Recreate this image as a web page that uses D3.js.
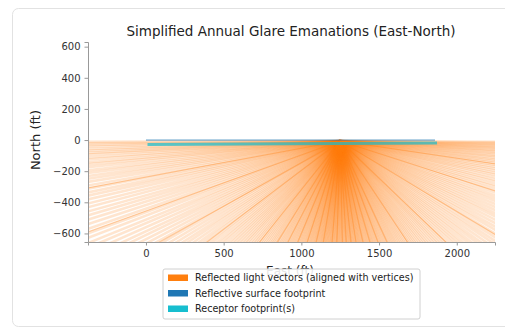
<!DOCTYPE html>
<html>
<head>
<meta charset="utf-8">
<script src="https://cdn.jsdelivr.net/npm/d3@7"></script>
<style>
  body { margin: 0; background: #fff; font-family: "DejaVu Sans", sans-serif; }
  .tick text { font-family: "DejaVu Sans", sans-serif; }
</style>
</head>
<body>
<svg id="chart"></svg>
<script>
const WIDTH = 505
const HEIGHT = 332

// ray directions in degrees from due south (negative = toward west)
const rayAngles = [
  -89.8, -89.5, -89.1, -88.7, -88.2, -87.8, -87.3, -86.9, -86.3, -85.8, -85.2, -84.7,
  -84.1, -83.4, -82.8, -82.1, -81.5, -80.8, -80.0, -79.3, -78.5, -77.8, -77.0, -76.1,
  -75.3, -74.4, -73.6, -72.7, -71.8, -70.8, -69.9, -69.0, -68.0, -67.1, -66.1, -65.1,
  -64.2, -63.2, -62.2, -61.2, -60.3, -59.3, -58.3, -57.3, -56.4, -55.4, -54.4, -53.5,
  -52.5, -51.6, -50.6, -49.7, -48.8, -47.8, -46.9, -46.0, -45.1, -44.2, -43.3, -42.5,
  -41.6, -40.7, -39.9, -39.1, -38.2, -37.4, -36.6, -35.8, -35.0, -34.2, -33.5, -32.7,
  -32.0, -31.2, -30.5, -29.8, -29.1, -28.4, -27.7, -27.0, -26.3, -25.7, -25.0, -24.4,
  -23.7, -23.1, -22.5, -21.9, -21.3, -20.7, -20.1, -19.5, -18.9, -18.4, -17.8, -17.3,
  -16.7, -16.2, -15.7, -15.1, -14.6, -14.1, -13.6, -13.1, -12.6, -12.1, -11.6, -11.1,
  -10.6, -10.2, -9.7, -9.2, -8.8, -8.3, -7.9, -7.4, -7.0, -6.5, -6.1, -5.6, -5.2, -4.8,
  -4.3, -3.9, -3.5, -3.0, -2.6, -2.2, -1.7, -1.3, -0.9, -0.4, 0,
  0.5, 0.9, 1.4, 1.8, 2.3, 2.7, 3.2, 3.6, 4.1, 4.5, 5.0, 5.4, 5.9, 6.3, 6.8, 7.2, 7.7,
  8.2, 8.6, 9.1, 9.6, 10.1, 10.5, 11.0, 11.5, 12.0, 12.5, 13.0, 13.5, 14.0, 14.6, 15.1,
  15.6, 16.2, 16.7, 17.3, 17.8, 18.4, 19.0, 19.6, 20.2, 20.8, 21.4, 22.0, 22.6, 23.3,
  23.9, 24.6, 25.2, 25.9, 26.6, 27.3, 28.0, 28.7, 29.4, 30.2, 30.9, 31.7, 32.4, 33.2,
  34.0, 34.8, 35.6, 36.4, 37.2, 38.1, 38.9, 39.8, 40.6, 41.5, 42.4, 43.3, 44.1, 45.0,
  45.9, 46.8, 47.8, 48.7, 49.6, 50.5, 51.5, 52.4, 53.4, 54.3, 55.3, 56.3, 57.2, 58.2,
  59.2, 60.2, 61.1, 62.1, 63.1, 64.1, 65.0, 66.0, 67.0, 67.9, 68.9, 69.8, 70.7, 71.7,
  72.6, 73.5, 74.3, 75.2, 76.0, 76.9, 77.7, 78.4, 79.2, 79.9, 80.6, 81.3, 82.0, 82.6,
  83.2, 83.8, 84.4, 84.9, 85.5, 86.0, 86.5, 86.9, 87.4, 87.8, 88.2, 88.6, 89.0, 89.4, 89.7
]
// a few rays that show up as darker streaks
const streakAngles = [
  -79.5, -70.2, -60.8, -52.9, -38.6, -31.9, -27.4, -22.8, -18.1, -13.4, -9.5, -4.6, -1.9,
  1.2, 3.4, 6.1, 8.9, 12.7, 16.4, 20.5, 24.9, 33.7, 46.3, 58.9, 72.2, 81.6
]
const rayOrigin = [1250, -6]   // east, north (ft)
const rayLength = 4000

const surfaceEast = [0, 1860]
const surfaceNorth = [0, 0]
const receptorEast = [10, 1873]
const receptorNorth = [-29, -19]

const xTicks = [0, 500, 1000, 1500, 2000]
const yTicks = [-600, -400, -200, 0, 200, 400, 600]

const legendLabels = [
  "Reflected light vectors (aligned with vertices)",
  "Reflective surface footprint",
  "Receptor footprint(s)"
]
const legendColors = ["#ff7f0e", "#1f77b4", "#17becf"]

const margin = {left: 88, right: 10, top: 42, bottom: 90}

const svg = d3.select("#chart").attr("width", WIDTH).attr("height", HEIGHT)

// card outline
svg.append("rect")
  .attr("x", 12.5).attr("y", 8.5)
  .attr("width", 530).attr("height", 318)
  .attr("rx", 6)
  .attr("fill", "none")
  .attr("stroke", "#e2e2e2")

const x = d3.scaleLinear().domain([-373, 2246]).range([margin.left, WIDTH - margin.right])
const y = d3.scaleLinear().domain([-655, 630]).range([HEIGHT - margin.bottom, margin.top])

svg.append("clipPath").attr("id", "plotclip")
  .append("rect")
  .attr("x", x.range()[0]).attr("y", y.range()[1])
  .attr("width", x.range()[1] - x.range()[0])
  .attr("height", y.range()[0] - y.range()[1])

const plot = svg.append("g").attr("clip-path", "url(#plotclip)")

function drawRays(angles, opacity, width) {
  plot.append("g")
    .selectAll("line")
    .data(angles)
    .enter()
    .append("line")
      .attr("x1", x(rayOrigin[0]))
      .attr("y1", y(rayOrigin[1]))
      .attr("x2", d => x(rayOrigin[0] + rayLength * Math.sin(d * Math.PI / 180)))
      .attr("y2", d => y(rayOrigin[1] - rayLength * Math.cos(d * Math.PI / 180)))
      .attr("stroke", "#ff7f0e")
      .attr("stroke-opacity", opacity)
      .attr("stroke-width", width)
}
drawRays(rayAngles, 0.2, 2.6)
drawRays(streakAngles, 0.35, 1.2)

// reflective surface
plot.append("line")
  .attr("x1", x(surfaceEast[0])).attr("y1", y(surfaceNorth[0]))
  .attr("x2", x(surfaceEast[1])).attr("y2", y(surfaceNorth[1]))
  .attr("stroke", "#1f77b4")
  .attr("stroke-opacity", 0.45)
  .attr("stroke-width", 1.8)

// receptor
plot.append("line")
  .attr("x1", x(receptorEast[0])).attr("y1", y(receptorNorth[0]))
  .attr("x2", x(receptorEast[1])).attr("y2", y(receptorNorth[1]))
  .attr("stroke", "#17becf")
  .attr("stroke-opacity", 0.7)
  .attr("stroke-width", 3)

// axes
const fmt = d => d < 0 ? "\u2212" + Math.abs(d) : String(d)
const xAxis = svg.append("g")
  .attr("transform", `translate(0,${y.range()[0]})`)
  .call(d3.axisBottom(x).tickValues(xTicks).tickSize(3.5).tickPadding(4).tickFormat(fmt))
const yAxis = svg.append("g")
  .attr("transform", `translate(${x.range()[0]},0)`)
  .call(d3.axisLeft(y).tickValues(yTicks).tickSize(3.5).tickPadding(4).tickFormat(fmt))

;[xAxis, yAxis].forEach(a => {
  a.select(".domain").attr("stroke", "#999").attr("stroke-width", 1)
  a.selectAll(".tick line").attr("stroke", "#999")
  a.selectAll(".tick text").attr("fill", "#333").attr("font-size", 10)
})

// title & labels
svg.append("text")
  .attr("x", 291).attr("y", 36)
  .attr("text-anchor", "middle")
  .attr("font-size", 13.5)
  .attr("fill", "#222")
  .text("Simplified Annual Glare Emanations (East-North)")

svg.append("text")
  .attr("x", 290).attr("y", 275)
  .attr("text-anchor", "middle")
  .attr("font-size", 12)
  .attr("fill", "#222")
  .text("East (ft)")

svg.append("text")
  .attr("transform", `translate(40,${y(0)}) rotate(-90)`)
  .attr("text-anchor", "middle")
  .attr("font-size", 13)
  .attr("fill", "#222")
  .text("North (ft)")

// legend
const legend = svg.append("g").attr("transform", "translate(163,269)")
legend.append("rect")
  .attr("width", 257).attr("height", 50)
  .attr("rx", 2)
  .attr("fill", "#fff").attr("fill-opacity", 0.88)
  .attr("stroke", "#d0d0d0")

const rows = legend.selectAll("g.row")
  .data(legendLabels)
  .enter()
  .append("g")
    .attr("class", "row")
    .attr("transform", (d, i) => `translate(5,${8.5 + i * 15.5})`)
rows.append("rect")
  .attr("x", 0).attr("y", -3)
  .attr("width", 20).attr("height", 6.5)
  .attr("fill", (d, i) => legendColors[i])
rows.append("text")
  .attr("x", 27).attr("y", 3.5)
  .attr("font-size", 9.6)
  .attr("fill", "#222")
  .text(d => d)
</script>
</body>
</html>
